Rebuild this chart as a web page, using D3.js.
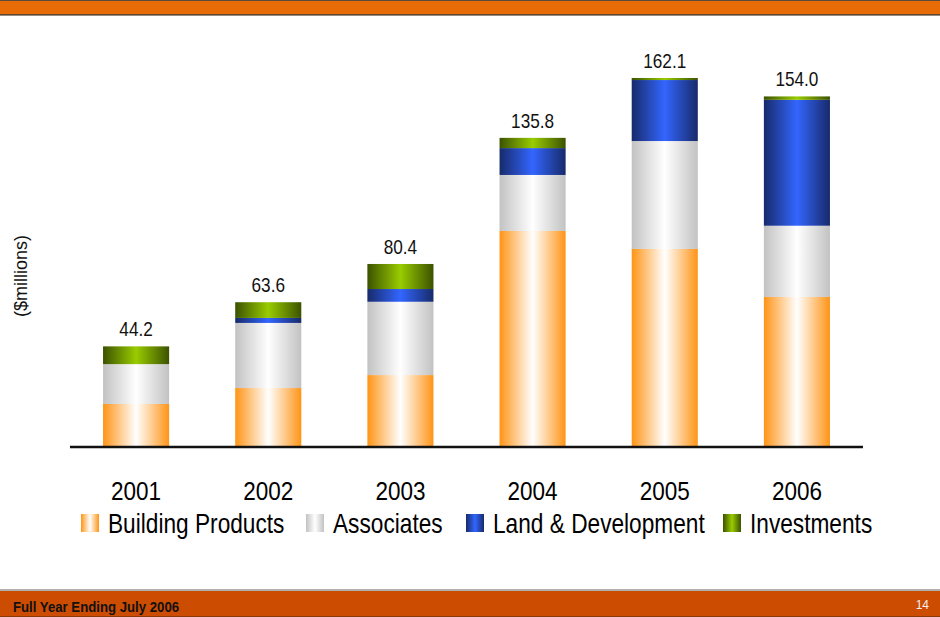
<!DOCTYPE html>
<html>
<head>
<meta charset="utf-8">
<script src="https://cdn.jsdelivr.net/npm/d3@7"></script>
<style>
  body { margin: 0; background: #fff; }
  svg { display: block; font-family: "Liberation Sans", Arial, sans-serif; }
</style>
</head>
<body>
<script>
// data ($millions)
var years = ["2001", "2002", "2003", "2004", "2005", "2006"];
var buildingProducts = [18.9, 25.9, 31.6, 94.9, 87.0, 65.9];
var associates = [17.5, 28.6, 32.2, 24.6, 47.4, 31.3];
var landDev = [0.0, 2.2, 5.6, 11.8, 26.8, 55.3];
var investments = [7.8, 6.9, 11.0, 4.5, 0.9, 1.5];
var totals = ["44.2", "63.6", "80.4", "135.8", "162.1", "154.0"];
var seriesNames = ["Building Products", "Associates", "Land & Development", "Investments"];

var W = 940, H = 617;
var svg = d3.select("body").append("svg").attr("width", W).attr("height", H);

// no narrow font installed, so squeeze text sideways
function narrow(sel, x, y, sx) {
  return sel.append("g").attr("transform", "translate(" + x + "," + y + ") scale(" + sx + ",1)")
    .append("text");
}

// gradients, light in the middle, dark at the sides
var grads = [
  { id: "gBP", edge: "#ff9416", mid: "#ffffff" },
  { id: "gAS", edge: "#c2c2c2", mid: "#ffffff" },
  { id: "gLD", edge: "#172a6a", mid: "#3366ff" },
  { id: "gIN", edge: "#3c5200", mid: "#99cc00" }
];
var defs = svg.append("defs");
grads.forEach(function(g) {
  var lg = defs.append("linearGradient").attr("id", g.id)
    .attr("x1", "0%").attr("x2", "100%").attr("y1", "0%").attr("y2", "0%");
  lg.append("stop").attr("offset", "0%").attr("stop-color", g.edge);
  lg.append("stop").attr("offset", "50%").attr("stop-color", g.mid);
  lg.append("stop").attr("offset", "100%").attr("stop-color", g.edge);
});

// header band
svg.append("rect").attr("x", 0).attr("y", 0).attr("width", W).attr("height", 16).attr("fill", "#5a4a3a");
svg.append("rect").attr("x", 0).attr("y", 1).attr("width", W).attr("height", 13).attr("fill", "#e76c07");
svg.append("rect").attr("x", 0).attr("y", 15).attr("width", W).attr("height", 1).attr("fill", "#9a8a7a");

// footer band
svg.append("rect").attr("x", 0).attr("y", 589).attr("width", W).attr("height", 2).attr("fill", "#b0b0b0");
svg.append("rect").attr("x", 0).attr("y", 591).attr("width", W).attr("height", 26).attr("fill", "#cc4c02");
svg.append("rect").attr("x", 0).attr("y", 616).attr("width", W).attr("height", 1).attr("fill", "#8a3a06");
narrow(svg, 13, 612, 0.88)
  .attr("font-size", 15).attr("font-weight", "bold").attr("fill", "#111")
  .text("Full Year Ending July 2006");
svg.append("text").attr("x", 929).attr("y", 609).attr("text-anchor", "end")
  .attr("font-size", 12).attr("fill", "#f5f0ea").text("14");

var x = d3.scaleBand().domain(years).range([70, 863]).paddingInner(0.5).paddingOuter(0.25);
var y = d3.scaleLinear().domain([0, 170]).range([447, 60]);

var rows = years.map(function(yr, i) {
  return { year: yr, bp: buildingProducts[i], as: associates[i], ld: landDev[i], inv: investments[i], total: totals[i] };
});
var stack = d3.stack().keys(["bp", "as", "ld", "inv"]);
var layers = stack(rows);

svg.selectAll("g.layer")
  .data(layers)
  .enter().append("g")
  .attr("class", "layer")
  .attr("fill", function(d, i) { return "url(#" + grads[i].id + ")"; })
  .selectAll("rect")
  .data(function(d) { return d; })
  .enter().append("rect")
  .attr("x", function(d) { return x(d.data.year); })
  .attr("y", function(d) { return y(d[1]); })
  .attr("width", x.bandwidth())
  .attr("height", function(d) { return y(d[0]) - y(d[1]); });

// total labels above bars
rows.forEach(function(d) {
  narrow(svg, x(d.year) + x.bandwidth() / 2, y(d.bp + d.as + d.ld + d.inv) - 10, 0.86)
    .attr("text-anchor", "middle")
    .attr("font-size", 20).attr("fill", "#111")
    .text(d.total);
});

// axis line + year labels
svg.append("line").attr("x1", 70).attr("x2", 863).attr("y1", 447).attr("y2", 447)
  .attr("stroke", "#111").attr("stroke-width", 2.5);
years.forEach(function(d) {
  narrow(svg, x(d) + x.bandwidth() / 2, 500, 0.9)
    .attr("text-anchor", "middle")
    .attr("font-size", 25).attr("fill", "#000")
    .text(d);
});

// y label
svg.append("text")
  .attr("transform", "translate(27,276) rotate(-90)")
  .attr("text-anchor", "middle")
  .attr("font-size", 18).attr("fill", "#111")
  .text("($millions)");

// legend
var legendX = [81, 306, 466, 723];
var leg = svg.selectAll("g.leg")
  .data(seriesNames)
  .enter().append("g")
  .attr("class", "leg")
  .attr("transform", function(d, i) { return "translate(" + legendX[i] + ",514)"; });
leg.append("rect").attr("width", 18).attr("height", 18)
  .attr("fill", function(d, i) { return "url(#" + grads[i].id + ")"; });
leg.each(function(d) {
  narrow(d3.select(this), 27, 19, 0.84)
    .attr("font-size", 27).attr("fill", "#000")
    .text(d);
});
</script>
</body>
</html>
